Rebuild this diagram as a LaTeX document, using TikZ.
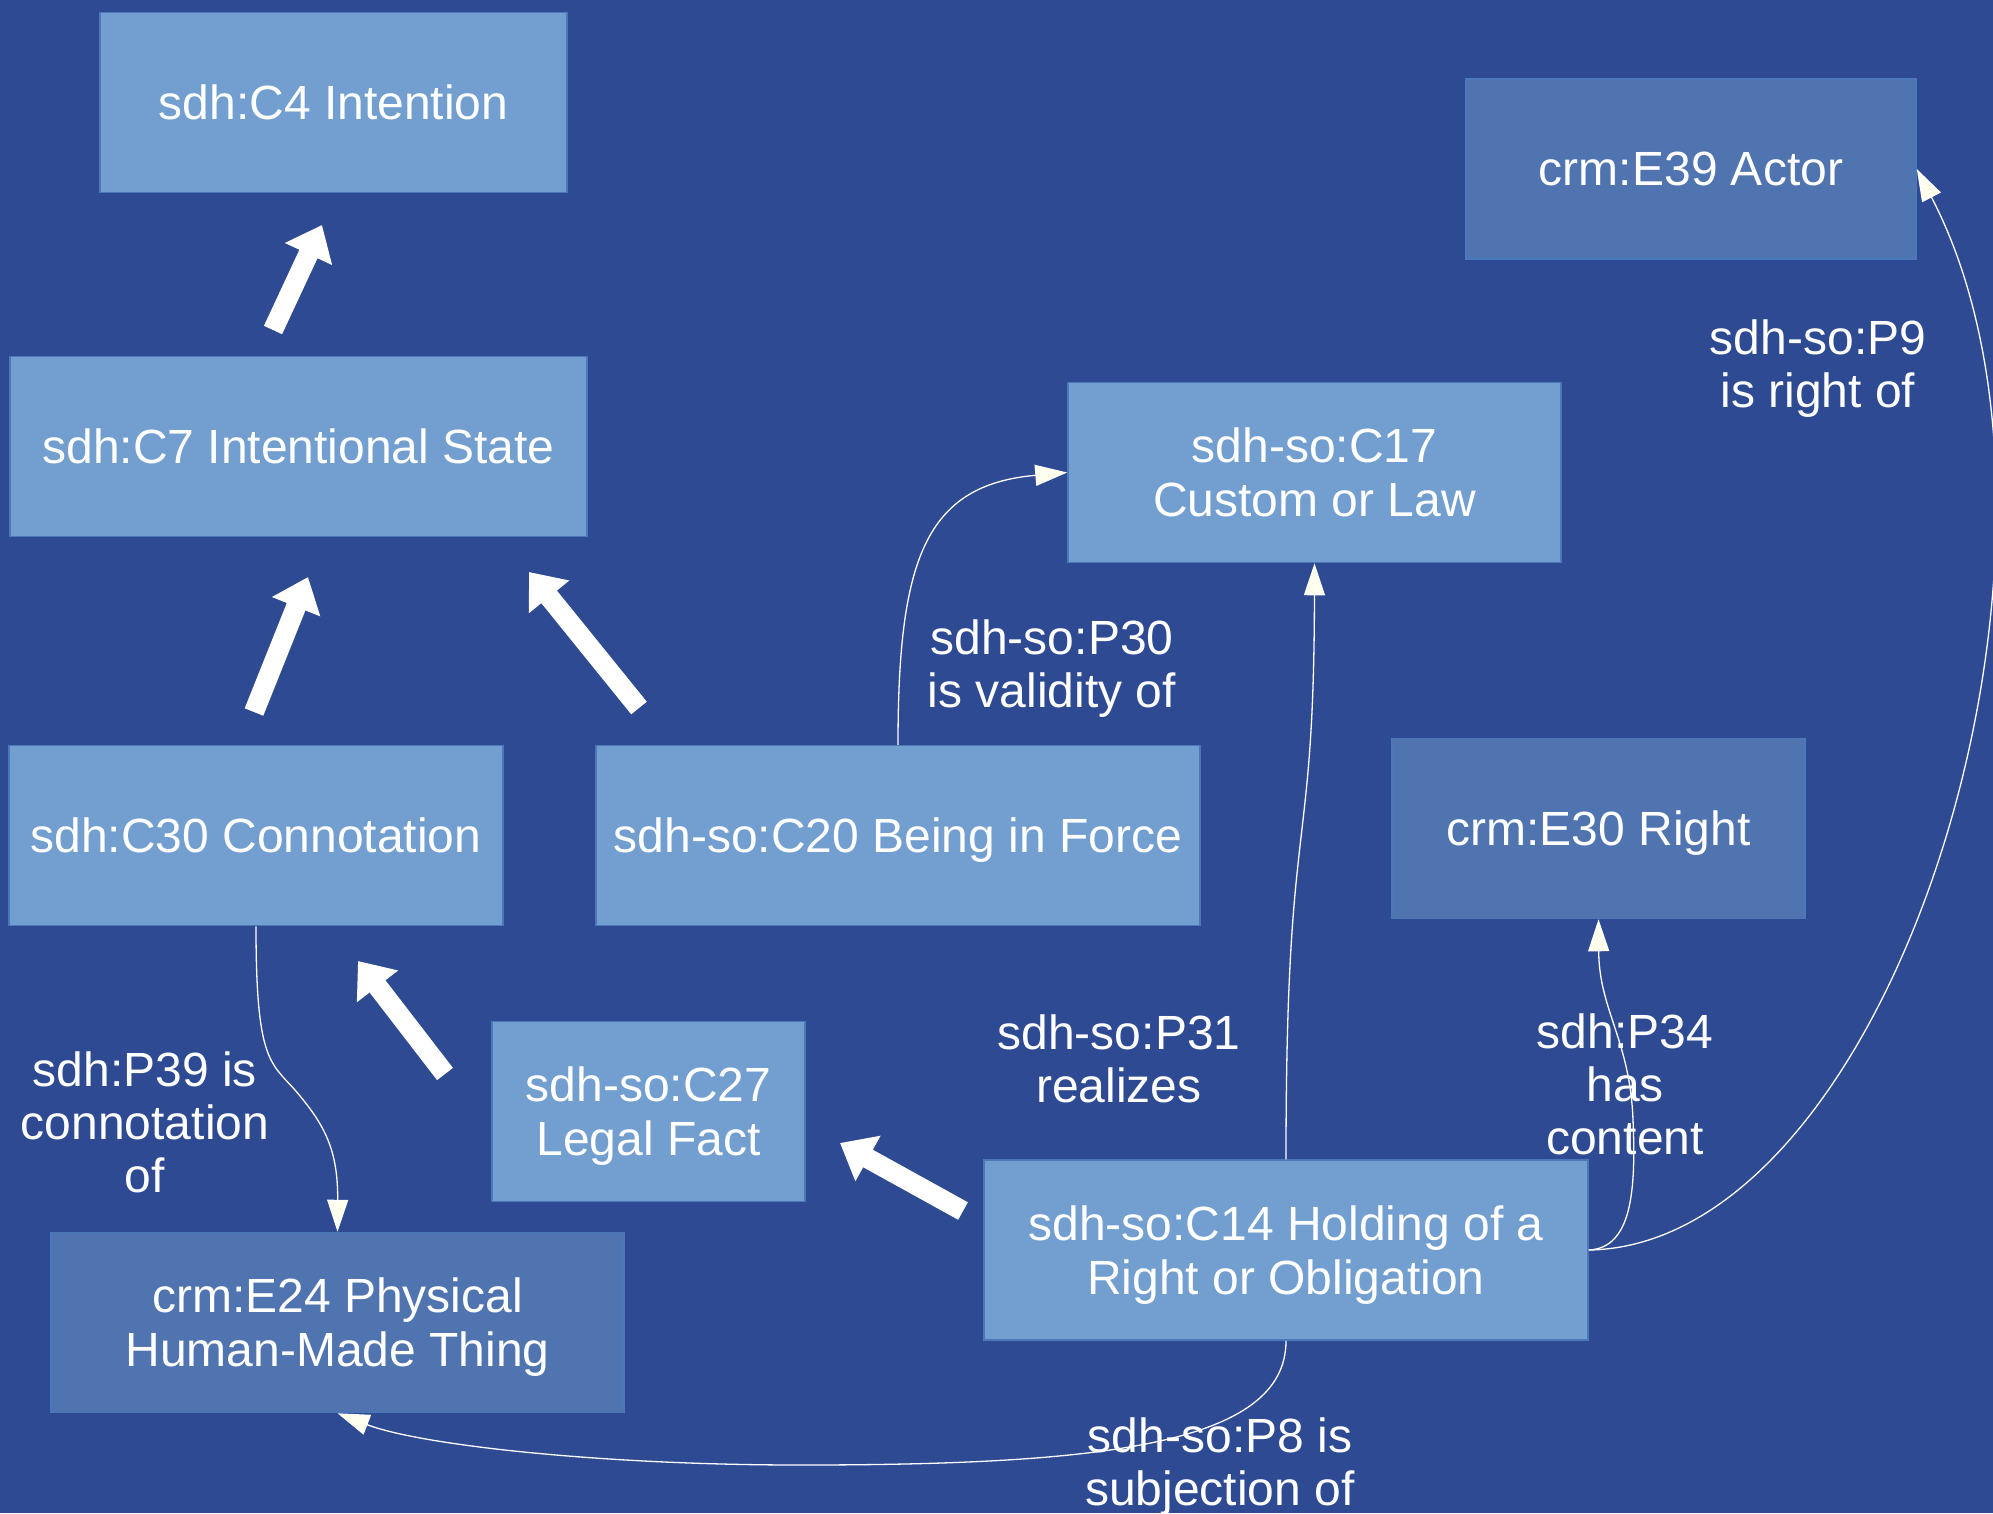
\documentclass[tikz,border=0pt]{standalone}
\usepackage{fontspec}
\setmainfont{Liberation Sans}
\usetikzlibrary{arrows.meta}
\definecolor{bgblue}{HTML}{2E4A93}
\definecolor{lightbox}{HTML}{729FCF}
\definecolor{darkbox}{HTML}{5074B0}
\definecolor{boxline}{HTML}{4A78B8}
\definecolor{tipfill}{HTML}{FFFFF0}
\tikzset{
  cls/.style={rectangle, fill=lightbox, draw=boxline, line width=1.5pt, inner sep=0pt,
    minimum height=180pt, text=white, align=center, text depth=0pt,
    font=\fontsize{48}{54}\selectfont},
  ext/.style={cls, fill=darkbox},
  lbl/.style={text=white, align=center, inner sep=0pt, font=\fontsize{48}{53}\selectfont},
  isa/.style={draw=white, line width=20pt, -{Triangle[length=32pt,width=50pt]}},
  rel/.style={draw=white, line width=1.3pt, -{Triangle[length=32pt,width=21pt,fill=tipfill]}},
}
\begin{document}
\begin{tikzpicture}[x=1pt,y=-1pt]
\useasboundingbox (0,0) rectangle (1993,1513);
\fill[bgblue] (0,0) rectangle (1993,1513);

% classes
\node[cls, minimum width=467pt] (C4)  at (333.5,102.5) {sdh:C4 Intention};
\node[cls, minimum width=577pt] (C7)  at (298.5,446.5) {sdh:C7 Intentional State};
\node[cls, minimum width=494pt] (C30) at (256,835.5) {sdh:C30 Connotation};
\node[cls, minimum width=604pt] (C20) at (898,835.5) {sdh-so:C20 Being in Force};
\node[cls, minimum width=493pt] (C17) at (1314.5,472.5) {sdh-so:C17\\Custom or Law};
\node[ext, minimum width=450pt] (E39) at (1691,169) {crm:E39 Actor};
\node[ext, minimum width=413pt] (E30) at (1598.5,828.5) {crm:E30 Right};
\node[cls, minimum width=313pt] (C27) at (648.5,1111.5) {sdh-so:C27\\Legal Fact};
\node[cls, minimum width=604pt] (C14) at (1286,1250) {sdh-so:C14 Holding of a\\Right or Obligation};
\node[ext, minimum width=573pt] (E24) at (337.5,1322.5) {crm:E24 Physical\\Human-Made Thing};

% subclass arrows
\coordinate (i1s) at (273,330);  \coordinate (i1e) at (322,225);
\coordinate (i2s) at (254,712);  \coordinate (i2e) at (308,577);
\coordinate (i3s) at (639,708);  \coordinate (i3e) at (529,572);
\coordinate (i4s) at (445,1074); \coordinate (i4e) at (358,961);
\coordinate (i5s) at (963,1211); \coordinate (i5e) at (840,1143);
\draw[isa] (i1s) -- (i1e);
\draw[isa] (i2s) -- (i2e);
\draw[isa] (i3s) -- (i3e);
\draw[isa] (i4s) -- (i4e);
\draw[isa] (i5s) -- (i5e);

% properties
\draw[rel] (C20.north) .. controls (898,560) and (925,485) .. (C17.west);
\draw[rel] (C14.north) .. controls (1286,800) and (1314,870) .. (C17.south);
\draw[rel] (C14.east) .. controls (1632,1248) and (1636,1190) .. (1633,1120)
   .. controls (1630,1040) and (1599,1010) .. (E30.south);
\draw[rel] (C14.east) .. controls (1895,1245) and (2110,540) .. (E39.east);
\draw[rel] (C30.south) .. controls (256,1060) and (270,1062) .. (295,1090)
   .. controls (325,1125) and (338,1150) .. (E24.north);
\draw[rel] (C14.south) .. controls (1286,1445) and (1100,1465) .. (800,1465)
   .. controls (600,1465) and (420,1445) .. (E24.south);

% labels
\node[lbl] (L30) at (1052,669) {sdh-so:P30\\is validity of};
\node[lbl] (L31) at (1119,1059) {sdh-so:P31\\realizes};
\node[lbl] (L34) at (1625,1084) {sdh:P34\\has\\content};
\node[lbl] (L9)  at (1818,369) {sdh-so:P9\\is right of};
\node[lbl] (L39) at (145,1122) {sdh:P39 is\\connotation\\of};
\node[lbl] (L8)  at (1220,1467) {sdh-so:P8 is\\subjection of};
\end{tikzpicture}
\end{document}
